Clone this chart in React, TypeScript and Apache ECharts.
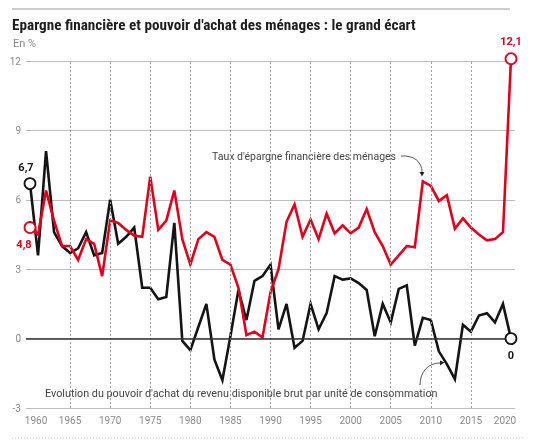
import React, { useEffect, useRef } from 'react';
import * as echarts from 'echarts';

const years = [
  1960, 1961, 1962, 1963, 1964, 1965, 1966, 1967, 1968, 1969,
  1970, 1971, 1972, 1973, 1974, 1975, 1976, 1977, 1978, 1979,
  1980, 1981, 1982, 1983, 1984, 1985, 1986, 1987, 1988, 1989,
  1990, 1991, 1992, 1993, 1994, 1995, 1996, 1997, 1998, 1999,
  2000, 2001, 2002, 2003, 2004, 2005, 2006, 2007, 2008, 2009,
  2010, 2011, 2012, 2013, 2014, 2015, 2016, 2017, 2018, 2019,
  2020,
];

// Evolution du pouvoir d'achat du revenu disponible brut par unité de consommation
const pouvoirAchat = [
  6.7, 3.6, 8.1, 4.6, 4.0, 3.7, 3.9, 4.6, 3.6, 3.7,
  6.0, 4.1, 4.4, 4.8, 2.2, 2.2, 1.7, 1.8, 5.0, -0.1,
  -0.5, 0.5, 1.5, -0.9, -1.8, 0.1, 2.1, 0.8, 2.5, 2.7,
  3.2, 0.4, 1.5, -0.4, -0.1, 1.5, 0.4, 1.1, 2.7, 2.55,
  2.6, 2.4, 2.1, 0.1, 1.5, 0.7, 2.15, 2.3, -0.3, 0.9,
  0.8, -0.55, -1.1, -1.75, 0.6, 0.3, 1.0, 1.1, 0.7, 1.5,
  0,
];

// Taux d'épargne financière des ménages
const epargne = [
  4.8, 4.5, 6.4, 5.1, 4.0, 4.0, 3.4, 4.3, 4.1, 2.7,
  5.1, 5.0, 4.7, 4.45, 4.4, 7.0, 4.7, 5.1, 6.4, 4.3,
  3.2, 4.3, 4.6, 4.4, 3.4, 3.2, 2.2, 0.15, 0.3, 0.05,
  2.0, 3.0, 5.05, 5.8, 4.4, 5.15, 4.3, 5.4, 4.55, 4.9,
  4.55, 4.8, 5.6, 4.6, 4.0, 3.2, 3.6, 4.0, 3.95, 6.8,
  6.6, 5.95, 6.2, 4.75, 5.2, 4.8, 4.5, 4.25, 4.3, 4.6,
  12.1,
];

const xTickLabels = [1960, 1965, 1970, 1975, 1980, 1985, 1990, 1995, 2000, 2005, 2010, 2015, 2020];
const dashedYears = [1965, 1970, 1975, 1980, 1985, 1990, 1995, 2000, 2005, 2010, 2015];

const TITLE = "Epargne financière et pouvoir d'achat des ménages : le grand écart";
const UNIT = 'En %';
const LABEL_EPARGNE = "Taux d'épargne financière des ménages";
const LABEL_POUVOIR = "Evolution du pouvoir d'achat du revenu disponible brut par unité de consommation";

export default function App() {
  const ref = useRef<HTMLDivElement>(null);

  useEffect(() => {
    const chart = echarts.init(ref.current as HTMLDivElement, null, { renderer: 'svg' });
    const font = 'Roboto, "Noto Sans", sans-serif';
    const titleFont = '"Liberation Sans Narrow", "Roboto Condensed", Roboto, sans-serif';
    const red = '#e3001b';
    const black = '#141414';
    const grey = '#8a8a8a';
    const last = years.length - 1;
    const fmt = (v: number) => String(v).replace('.', ',');

    chart.setOption({
      animation: false,
      textStyle: { fontFamily: font },
      title: [
        {
          text: TITLE,
          left: 12,
          top: 17,
          padding: 0,
          textStyle: { fontFamily: titleFont, fontSize: 15.2, fontWeight: 'bold', color: '#1e1e1e' },
        },
        {
          text: UNIT,
          left: 13,
          top: 38,
          padding: 0,
          textStyle: { fontFamily: font, fontSize: 11, fontWeight: 'normal', color: grey },
        },
      ],
      grid: { left: 26, right: 22, top: 61, bottom: 35 },
      xAxis: {
        type: 'value',
        min: 1959.5,
        max: 2020.5,
        axisLine: { show: false },
        axisTick: { show: false },
        splitLine: { show: false },
        axisLabel: {
          customValues: xTickLabels,
          color: grey,
          fontSize: 10,
          margin: 7,
          formatter: (v: number) =>
            v === 1960 ? '{a|1960}' : v === 2020 ? '{b|2020}' : String(v),
          rich: {
            a: { padding: [0, 0, 0, 12], color: grey, fontSize: 10 },
            b: { padding: [0, 12, 0, 0], color: grey, fontSize: 10 },
          },
        },
      },
      yAxis: {
        type: 'value',
        min: -3,
        max: 12,
        interval: 3,
        axisLine: { show: false },
        axisTick: { show: false },
        axisLabel: { color: grey, fontSize: 10, margin: 5 },
        splitLine: { lineStyle: { color: '#bdbdbd', width: 1.2 } },
      },
      series: [
        {
          type: 'line',
          data: [],
          z: 1,
          silent: true,
          markLine: {
            silent: true,
            symbol: 'none',
            label: { show: false },
            lineStyle: { type: [2, 2], color: '#a0a0a0', width: 1 },
            data: dashedYears.map((y) => ({ xAxis: y })),
          },
        },
        {
          type: 'line',
          data: [],
          z: 2,
          silent: true,
          markLine: {
            silent: true,
            symbol: 'none',
            label: { show: false },
            lineStyle: { type: 'solid', color: '#333', width: 1.5 },
            data: [{ yAxis: 0 }],
          },
        },
        {
          type: 'line',
          name: LABEL_POUVOIR,
          data: years.map((y, i) => [y, pouvoirAchat[i]]),
          showSymbol: false,
          clip: false,
          lineStyle: { color: black, width: 2.6, join: 'miter' },
          z: 3,
        },
        {
          type: 'line',
          name: LABEL_EPARGNE,
          data: years.map((y, i) => [y, epargne[i]]),
          showSymbol: false,
          clip: false,
          lineStyle: { color: red, width: 2.6, join: 'miter' },
          z: 4,
        },
        {
          type: 'scatter',
          z: 5,
          clip: false,
          symbolSize: 11,
          itemStyle: { color: '#fff', opacity: 1, borderColor: black, borderWidth: 1.8 },
          label: { show: true, color: black, fontWeight: 'bold', fontSize: 11, formatter: (p: any) => fmt(p.value[1]) },
          data: [
            { value: [years[0], pouvoirAchat[0]], label: { position: 'top', offset: [-4, 1] } },
            { value: [years[last], pouvoirAchat[last]], label: { position: 'bottom', offset: [0, 0] } },
          ],
        },
        {
          type: 'scatter',
          z: 6,
          clip: false,
          symbolSize: 11,
          itemStyle: { color: '#fff', opacity: 1, borderColor: red, borderWidth: 1.8 },
          label: { show: true, color: red, fontWeight: 'bold', fontSize: 11, formatter: (p: any) => fmt(p.value[1]) },
          data: [
            { value: [years[0], epargne[0]], label: { position: 'bottom', offset: [-6, 0] } },
            { value: [years[last], epargne[last]], label: { position: 'top', offset: [0, 0] } },
          ],
        },
      ],
      graphic: [
        { type: 'line', shape: { x1: 12, y1: 9, x2: 510, y2: 9 }, style: { stroke: '#9a9a9a', lineWidth: 1 } },
        { type: 'line', shape: { x1: 12, y1: 438, x2: 525, y2: 438 }, style: { stroke: '#c8c8c8', lineWidth: 1, lineDash: [1, 2] } },
        {
          type: 'text',
          x: 212,
          y: 156,
          style: { text: LABEL_EPARGNE, fill: '#444', fontSize: 10.5, fontFamily: font, verticalAlign: 'middle' },
        },
        {
          type: 'bezierCurve',
          shape: { x1: 401, y1: 156, cpx1: 414, cpy1: 155, cpx2: 422, cpy2: 162, x2: 422, y2: 172 },
          style: { stroke: '#444', lineWidth: 0.9, fill: 'none' },
        },
        { type: 'polygon', shape: { points: [[419.5, 172], [424.5, 172], [422, 176.5]] }, style: { fill: '#222' } },
        {
          type: 'text',
          x: 45,
          y: 393,
          style: { text: LABEL_POUVOIR, fill: '#444', fontSize: 10.8, fontFamily: font, verticalAlign: 'middle' },
        },
        {
          type: 'bezierCurve',
          shape: { x1: 420, y1: 385, cpx1: 420, cpy1: 372, cpx2: 428, cpy2: 363, x2: 440, y2: 363 },
          style: { stroke: '#444', lineWidth: 0.9, fill: 'none' },
        },
        { type: 'polygon', shape: { points: [[440, 360.5], [440, 365.5], [444.5, 362.5]] }, style: { fill: '#222' } },
      ],
    });

    return () => chart.dispose();
  }, []);

  return <div ref={ref} style={{ position: 'fixed', left: 0, top: 0, width: 537, height: 443 }} />;
}
